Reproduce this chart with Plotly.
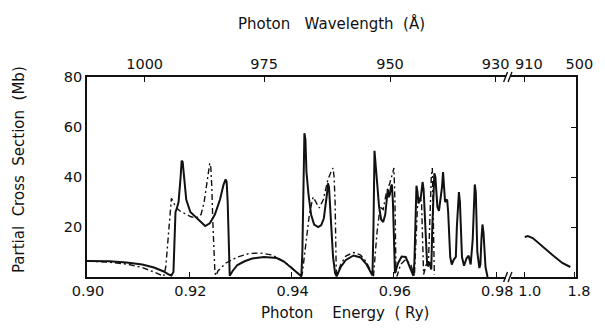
import numpy as np
import plotly.graph_objects as go

# Photon energy (Ry) and partial cross sections (Mb)
solid_E = [0.9000, 0.9025, 0.9044, 0.9077, 0.9108, 0.9131, 0.9150, 0.9160, 0.9165, 0.9169,
           0.9171, 0.9173, 0.9175, 0.9179, 0.9183, 0.9185, 0.9187, 0.9190, 0.9194, 0.9202,
           0.9212, 0.9221, 0.9231, 0.9240, 0.9250, 0.9260, 0.9267, 0.9271, 0.9273, 0.9275,
           0.9277, 0.9279, 0.9285, 0.9294, 0.9308, 0.9323, 0.9346, 0.9371, 0.9385, 0.9396,
           0.9410, 0.9419, 0.9421, 0.9423, 0.9425, 0.9427, 0.9429, 0.9433, 0.9438, 0.9444,
           0.9452, 0.9458, 0.9463, 0.9469, 0.9471, 0.9473, 0.9477, 0.9481, 0.9485, 0.9488,
           0.9496, 0.9506, 0.9521, 0.9535, 0.9546, 0.9554, 0.9558, 0.9560, 0.9562, 0.9563,
           0.9567, 0.9571, 0.9575, 0.9579, 0.9583, 0.9585, 0.9587, 0.9588, 0.9590, 0.9592,
           0.9594, 0.9596, 0.9598, 0.9600, 0.9602, 0.9608, 0.9615, 0.9623, 0.9629, 0.9635,
           0.9638, 0.9640, 0.9642, 0.9644, 0.9646, 0.9648, 0.9652, 0.9656, 0.9658, 0.9660,
           0.9662, 0.9663, 0.9665, 0.9669, 0.9673, 0.9675, 0.9679, 0.9681, 0.9685, 0.9688,
           0.9692, 0.9694, 0.9696, 0.9700, 0.9704, 0.9706, 0.9710, 0.9713, 0.9717, 0.9721,
           0.9723, 0.9727, 0.9729, 0.9733, 0.9737, 0.9742, 0.9746, 0.9750, 0.9754, 0.9758,
           0.9760, 0.9763, 0.9767, 0.9769, 0.9771, 0.9773, 0.9775, 0.9779, 0.9783]
solid_S = [6.4, 6.4, 6.3, 5.8, 5.0, 3.8, 2.2, 1.0, 0.6, 2.0,
           15.0, 26.0, 27.0, 30.0, 40.0, 46.5, 46.0, 38.0, 31.0, 26.0,
           24.0, 22.0, 20.4, 21.5, 25.0, 31.0, 37.0, 39.0, 38.0, 30.0,
           12.0, 0.5, 2.5, 4.8, 6.3, 7.4, 8.0, 7.6, 6.2, 4.2,
           1.6, 0.3, 10.0, 45.0, 57.5, 55.0, 42.0, 33.0, 25.0, 21.0,
           20.0, 20.8, 23.5, 33.0, 37.5, 36.0, 22.0, 8.0, 1.5, 0.3,
           4.0, 6.8, 8.6, 7.8, 5.2, 2.4, 0.6, 20.0, 50.5, 48.0,
           38.0, 28.0, 23.0, 22.0, 25.0, 30.0, 34.0, 35.0, 32.0, 33.0,
           36.0, 37.0, 30.0, 12.0, 1.5, 5.5, 8.2, 8.0, 5.0, 1.5,
           0.5, 6.0, 24.0, 36.5, 34.0, 29.5, 31.0, 38.0, 35.0, 26.0,
           18.0, 8.0, 4.5, 6.0, 3.0, 20.0, 41.5, 40.0, 28.0, 26.5,
           33.0, 36.0, 42.0, 30.0, 31.0, 26.0, 8.0, 5.0, 7.0, 8.0,
           20.0, 34.0, 30.0, 8.0, 4.5, 7.5, 8.5, 5.0, 15.0, 37.0,
           34.0, 10.0, 3.6, 5.0, 15.0, 21.0, 18.0, 4.0, 0.0]

dash_E = [0.9000, 0.9025, 0.9044, 0.9077, 0.9108, 0.9131, 0.9146, 0.9150, 0.9154, 0.9158,
          0.9162, 0.9165, 0.9169, 0.9173, 0.9181, 0.9190, 0.9202, 0.9213, 0.9223, 0.9229,
          0.9235, 0.9240, 0.9242, 0.9244, 0.9246, 0.9248, 0.9250, 0.9252, 0.9256, 0.9271,
          0.9294, 0.9317, 0.9338, 0.9362, 0.9377, 0.9394, 0.9410, 0.9419, 0.9421, 0.9425,
          0.9429, 0.9435, 0.9442, 0.9448, 0.9454, 0.9462, 0.9467, 0.9471, 0.9477, 0.9481,
          0.9483, 0.9485, 0.9487, 0.9488, 0.9496, 0.9506, 0.9521, 0.9535, 0.9546, 0.9554,
          0.9560, 0.9563, 0.9567, 0.9573, 0.9579, 0.9585, 0.9592, 0.9598, 0.9600, 0.9602,
          0.9604, 0.9606, 0.9613, 0.9623, 0.9633, 0.9640, 0.9642, 0.9646, 0.9650, 0.9654,
          0.9656, 0.9658, 0.9663, 0.9667, 0.9669, 0.9671, 0.9673, 0.9675, 0.9677, 0.9679]
dash_S = [6.4, 6.2, 5.9, 5.2, 3.8, 2.0, 0.6, 0.3, 4.0, 14.0,
          25.0, 31.5, 30.0, 28.0, 26.5, 25.5, 24.2, 23.5, 25.0, 30.0,
          38.0, 45.5, 44.0, 36.0, 22.0, 10.0, 2.0, 0.5, 2.4, 5.5,
          8.0, 9.4, 9.6, 8.8, 7.2, 4.8, 2.0, 0.3, 1.6, 8.0,
          16.0, 25.6, 32.0, 30.0, 27.6, 31.0, 36.0, 39.0, 42.0, 43.6,
          40.0, 30.0, 5.0, 0.3, 5.0, 8.4, 9.8, 8.8, 6.0, 2.8,
          0.3, 8.0, 18.0, 28.0, 27.0, 33.6, 37.6, 42.0, 43.6, 30.0,
          2.0, 0.3, 5.0, 7.0, 5.0, 0.5, 10.0, 28.0, 32.0, 30.0,
          15.0, 1.0, 5.0, 4.0, 15.0, 30.0, 40.0, 43.6, 25.0, 1.0]

# Continuum beyond the break
high_E = [1.00, 1.05, 1.13, 1.29, 1.45, 1.61, 1.74]
high_S = [16.0, 16.4, 15.6, 12.0, 8.8, 5.6, 4.0]

energy_ticks = [0.90, 0.92, 0.94, 0.96, 0.98]
energy_labels = ["0.90", "0.92", "0.94", "0.96", "0.98"]
high_ticks = [1.0, 1.8]
high_labels = ["1.0", "1.8"]
wave_main = [1000, 975, 950, 930]
wave_high = [910, 500]
sigma_ticks = [20, 40, 60, 80]

RY_ANGSTROM = 911.27  # lambda(A) = 911.27 / E(Ry)

FONT = "DejaVu Sans"
ink = "#111111"

fig = go.Figure()
fig.add_trace(go.Scatter(x=dash_E, y=dash_S, mode="lines", xaxis="x", yaxis="y",
                         line=dict(color=ink, width=1.4, dash="6px,3px,2px,3px")))
fig.add_trace(go.Scatter(x=solid_E, y=solid_S, mode="lines", xaxis="x", yaxis="y",
                         line=dict(color=ink, width=2.0)))
fig.add_trace(go.Scatter(x=high_E, y=high_S, mode="lines", xaxis="x2", yaxis="y",
                         line=dict(color=ink, width=2.0)))

main_range = [0.90, 0.98192]
high_range = [0.776, 1.832]
d_main = [0.0, 0.857]
d_high = [0.867, 1.0]

tick_font = dict(family=FONT, size=14.5, color=ink)
axis_common = dict(showgrid=False, zeroline=False, showline=True, linecolor=ink, linewidth=1.6,
                   ticks="inside", ticklen=5, tickwidth=1.3, tickcolor=ink, tickfont=tick_font)

fig.update_layout(
    width=605, height=335,
    margin=dict(l=87, r=21, t=77, b=58),
    paper_bgcolor="white", plot_bgcolor="white",
    showlegend=False,
    xaxis=dict(domain=d_main, range=main_range, anchor="y", side="bottom",
               tickvals=energy_ticks, ticktext=energy_labels, ticklabelshift=1, **axis_common),
    xaxis2=dict(domain=d_high, range=high_range, anchor="y", side="bottom",
                tickvals=high_ticks, ticktext=high_labels, ticklabelshift=5, **axis_common),
    xaxis3=dict(overlaying="x", range=main_range, anchor="y", side="top",
                tickvals=[RY_ANGSTROM / w for w in wave_main], ticktext=[str(w) for w in wave_main],
                **axis_common),
    xaxis4=dict(overlaying="x2", range=high_range, anchor="y", side="top",
                tickvals=[RY_ANGSTROM / w for w in wave_high], ticktext=[str(w) for w in wave_high],
                ticklabelshift=4, **axis_common),
    yaxis=dict(domain=[0, 1], range=[0, 80], anchor="x", showgrid=False, zeroline=False,
               showline=True, linecolor=ink, linewidth=1.6, ticks="",
               tickvals=sigma_ticks, tickfont=tick_font),
    yaxis2=dict(overlaying="y", range=[0, 80], anchor="x2", side="right", showgrid=False,
                zeroline=False, showline=True, linecolor=ink, linewidth=1.6,
                ticks="inside", ticklen=5, tickwidth=1.3, tickcolor=ink,
                tickvals=[20, 40, 60], showticklabels=False),
)

# empty traces so the top axes and the right-hand axis render
fig.add_trace(go.Scatter(x=[None], y=[None], xaxis="x3", yaxis="y", showlegend=False))
fig.add_trace(go.Scatter(x=[None], y=[None], xaxis="x4", yaxis="y", showlegend=False))
fig.add_trace(go.Scatter(x=[None], y=[None], xaxis="x2", yaxis="y2", showlegend=False))

title_font = dict(family=FONT, size=15, color=ink)
fig.add_annotation(text="Photon   Wavelength  (Å)", xref="paper", yref="paper",
                   x=0.5, y=1.27, xanchor="center", yanchor="middle",
                   showarrow=False, font=title_font)
fig.add_annotation(text="Photon    Energy  ( Ry)", xref="paper", yref="paper",
                   x=0.528, y=-0.18, xanchor="center", yanchor="middle",
                   showarrow=False, font=title_font)
fig.add_annotation(text="Partial  Cross  Section  (Mb)", xref="paper", yref="paper",
                   x=-0.139, y=0.535, xanchor="center", yanchor="middle",
                   showarrow=False, textangle=-90, font=title_font)

# axis break marks: a pair of short slanted strokes on the top and bottom frame lines
for yb in (0.0, 1.0):
    for xb in (0.856, 0.865):
        fig.add_shape(type="line", xref="paper", yref="paper",
                      x0=xb - 0.004, y0=yb - 0.025, x1=xb + 0.004, y1=yb + 0.025,
                      line=dict(color=ink, width=1.4))

fig.write_html("out.html")
